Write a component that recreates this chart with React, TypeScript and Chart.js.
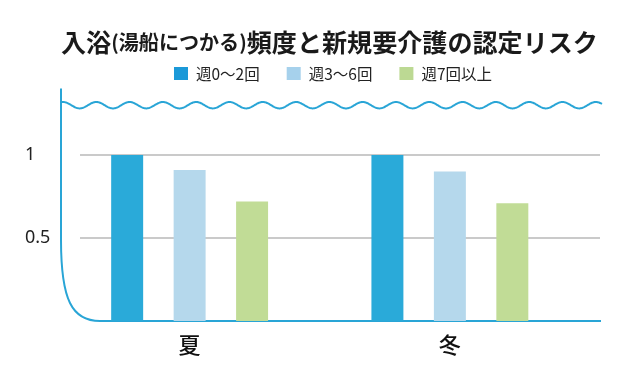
import React, { useEffect, useRef } from 'react';
import { Chart, registerables } from 'chart.js';

Chart.register(...registerables);

// ---- data ----
const categories = ['夏', '冬'];
const seriesLabels = ['週0〜2回', '週3〜6回', '週7回以上'];
const bath0to2 = [1.0, 1.0];
const bath3to6 = [0.91, 0.9];
const bath7plus = [0.72, 0.71];
const yTickValues = [0.5, 1];
const titleParts = ['入浴', '(湯船につかる)', '頻度と新規要介護の認定リスク'];

const barColors = ['#2aaad9', '#b5d8ec', '#c1dc96'];
const legendColors = ['#1b99d8', '#a6d1ec', '#bcd993'];
const lineBlue = '#29a5d6';
const CJK = '"Noto Sans CJK JP", "Noto Sans", sans-serif';

// Frame decorations: curved axis line, wavy water surface, baseline and grid lines
const framePlugin = {
  id: 'bathFrame',
  beforeDatasetsDraw(chart: any) {
    const { ctx, chartArea, scales } = chart;
    const y = scales.y;
    ctx.save();

    // grid lines
    ctx.strokeStyle = '#b9b9b9';
    ctx.lineWidth = 1.5;
    for (const v of yTickValues) {
      const py = y.getPixelForValue(v);
      ctx.beginPath();
      ctx.moveTo(chartArea.left + 20.5, py);
      ctx.lineTo(chartArea.right + 20, py);
      ctx.stroke();
    }

    // tub outline: left wall curving into the floor
    const base = y.getPixelForValue(0);
    const lx = chartArea.left + 1.5;
    ctx.strokeStyle = lineBlue;
    ctx.lineWidth = 2;
    ctx.beginPath();
    ctx.moveTo(lx, chartArea.top);
    ctx.lineTo(lx, base - 81);
    ctx.bezierCurveTo(lx, base - 21, lx + 11, base, lx + 39, base);
    ctx.lineTo(chartArea.right + 21, base);
    ctx.stroke();

    // water surface
    const wy = y.getPixelForValue(1.3);
    const amp = 3.2;
    const period = 33.3;
    const x0 = lx;
    const x1 = chartArea.right + 22;
    ctx.beginPath();
    for (let x = x0; x <= x1; x += 0.5) {
      const yy = wy - amp * Math.cos((2 * Math.PI * (x - (lx + 2))) / period);
      if (x === x0) ctx.moveTo(x, yy);
      else ctx.lineTo(x, yy);
    }
    ctx.stroke();
    ctx.restore();
  },
};

// Title with a smaller parenthetical, plus the series legend
const headerPlugin = {
  id: 'bathHeader',
  afterDraw(chart: any) {
    const { ctx } = chart;
    ctx.save();

    // title
    const sizes = [25, 20, 25];
    const widths = titleParts.map((t, i) => {
      ctx.font = `bold ${sizes[i]}px ${CJK}`;
      return ctx.measureText(t).width;
    });
    const total = widths.reduce((a, b) => a + b, 0);
    const left = 61;
    const k = (598 - left) / total;
    let x = left;
    ctx.fillStyle = '#1a1a1a';
    ctx.textBaseline = 'middle';
    ctx.textAlign = 'left';
    titleParts.forEach((t, i) => {
      ctx.font = `bold ${sizes[i] * k}px ${CJK}`;
      ctx.fillText(t, x, 42);
      x += widths[i] * k;
    });

    // legend
    const box = 14;
    const boxH = 13;
    const gap = 8;
    const spacing = 27;
    ctx.font = `15.5px ${CJK}`;
    const tw = seriesLabels.map((s) => ctx.measureText(s).width);
    const legendW =
      tw.reduce((a, w) => a + box + gap + w, 0) + spacing * (seriesLabels.length - 1);
    let lx = 333 - legendW / 2;
    seriesLabels.forEach((s, i) => {
      ctx.fillStyle = legendColors[i];
      ctx.fillRect(lx, 67, box, boxH);
      ctx.fillStyle = '#222';
      ctx.fillText(s, lx + box + gap, 74);
      lx += box + gap + tw[i] + spacing;
    });
    ctx.restore();
  },
};

export default function App() {
  const ref = useRef<HTMLCanvasElement>(null);

  useEffect(() => {
    const chart = new Chart(ref.current!, {
      type: 'bar',
      data: {
        labels: categories,
        datasets: [
          { label: seriesLabels[0], data: bath0to2, backgroundColor: barColors[0] },
          { label: seriesLabels[1], data: bath3to6, backgroundColor: barColors[1] },
          { label: seriesLabels[2], data: bath7plus, backgroundColor: barColors[2] },
        ],
      },
      options: {
        responsive: false,
        animation: false,
        devicePixelRatio: 1,
        layout: { padding: { top: 88.6, left: 25, right: 60, bottom: 0 } },
        datasets: {
          bar: { categoryPercentage: 0.72, barPercentage: 0.512, borderWidth: 0 },
        },
        plugins: {
          legend: { display: false },
          title: { display: false },
          tooltip: { enabled: false },
        },
        scales: {
          x: {
            grid: { display: false },
            border: { display: false },
            ticks: {
              font: { family: CJK, size: 22, weight: '500' },
              color: '#111',
              padding: 2,
            },
            afterFit(scale: any) {
              scale.height = 53;
            },
          },
          y: {
            min: 0,
            max: 1.4,
            grid: { display: false },
            border: { display: false },
            afterBuildTicks(scale: any) {
              scale.ticks = yTickValues.map((v) => ({ value: v }));
            },
            ticks: {
              crossAlign: 'far',
              font: { family: '"Noto Sans", sans-serif', size: 18 },
              color: '#222',
              callback: (v: any) => String(v),
            },
            afterFit(scale: any) {
              scale.width = 34.5;
            },
          },
        },
      },
      plugins: [framePlugin, headerPlugin],
    } as any);
    return () => chart.destroy();
  }, []);

  return (
    <div style={{ position: 'fixed', left: 0, top: 0, width: 640, height: 374, background: '#fff' }}>
      <canvas ref={ref} width={640} height={374} style={{ display: 'block', width: 640, height: 374 }} />
    </div>
  );
}
